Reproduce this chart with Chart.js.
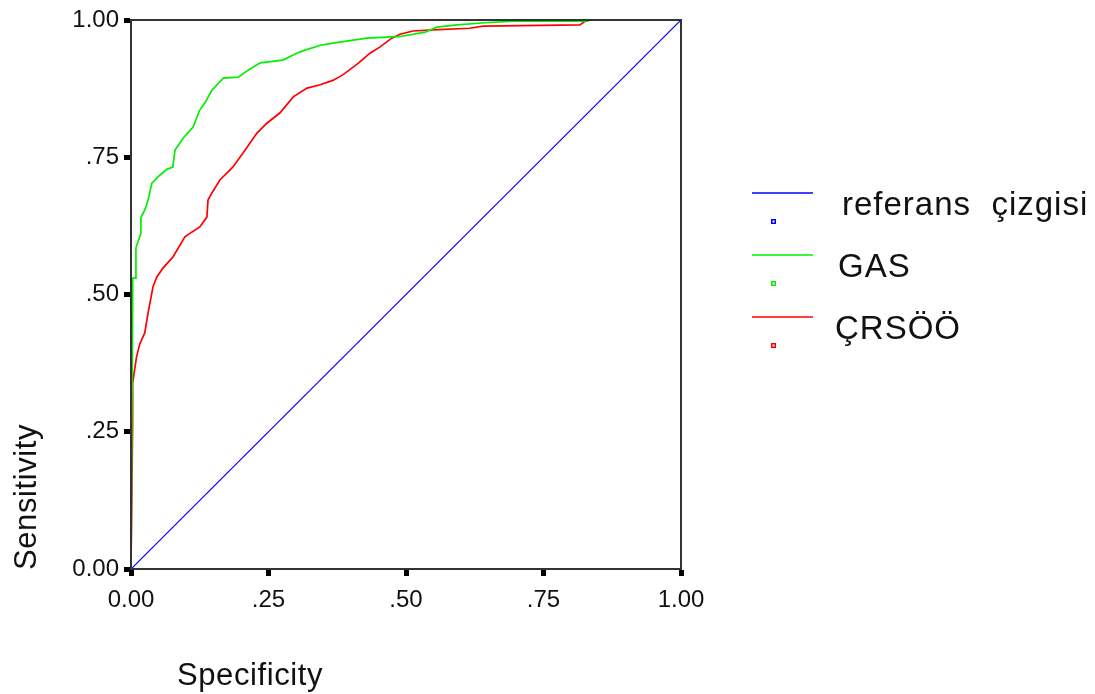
<!DOCTYPE html>
<html>
<head>
<meta charset="utf-8">
<script src="https://cdn.jsdelivr.net/npm/chart.js@4.4.1/dist/chart.umd.min.js"></script>
<style>
  html, body { margin: 0; padding: 0; background: #fff; }
  #wrap { position: relative; width: 1095px; height: 694px; }
</style>
</head>
<body>
<div id="wrap"><canvas id="c" width="1095" height="694"></canvas></div>
<script>
// ---- Data ----
const tickValues = [0, 0.25, 0.5, 0.75, 1];
const tickLabels = ['0.00', '.25', '.50', '.75', '1.00'];
const xTitle = 'Specificity';
const yTitle = 'Sensitivity';
const seriesNames = ['referans  çizgisi', 'GAS', 'ÇRSÖÖ'];
const seriesColors = ['#0000ff', '#00f000', '#ff0000'];

const refX = [0, 1];
const refY = [0, 1];

const gasX = [0, 0.003, 0.003, 0.009, 0.009, 0.018, 0.018, 0.022, 0.025, 0.031, 0.038, 0.050, 0.065, 0.076, 0.080, 0.095, 0.113, 0.125, 0.135, 0.147, 0.168, 0.195, 0.215, 0.235, 0.276, 0.307, 0.344, 0.367, 0.429, 0.490, 0.535, 0.556, 0.593, 0.644, 0.695, 0.830, 0.835, 1];
const gasY = [0, 0.477, 0.530, 0.530, 0.585, 0.612, 0.640, 0.648, 0.654, 0.672, 0.703, 0.715, 0.728, 0.732, 0.763, 0.785, 0.805, 0.836, 0.850, 0.872, 0.894, 0.896, 0.910, 0.922, 0.927, 0.942, 0.954, 0.958, 0.967, 0.970, 0.978, 0.987, 0.991, 0.995, 0.998, 0.998, 1, 1];

const crsX = [0, 0.003, 0.003, 0.010, 0.016, 0.025, 0.031, 0.040, 0.047, 0.058, 0.076, 0.098, 0.111, 0.125, 0.138, 0.140, 0.147, 0.162, 0.185, 0.204, 0.229, 0.247, 0.271, 0.295, 0.320, 0.344, 0.367, 0.385, 0.413, 0.435, 0.453, 0.474, 0.489, 0.513, 0.549, 0.616, 0.640, 0.816, 0.829, 1];
const crsY = [0, 0.268, 0.339, 0.386, 0.410, 0.430, 0.466, 0.514, 0.532, 0.548, 0.568, 0.605, 0.614, 0.623, 0.641, 0.672, 0.685, 0.709, 0.732, 0.758, 0.794, 0.812, 0.831, 0.860, 0.876, 0.882, 0.890, 0.900, 0.921, 0.940, 0.951, 0.967, 0.974, 0.980, 0.982, 0.985, 0.989, 0.991, 1, 1];

function pts(xs, ys) { return xs.map((x, i) => ({ x: x, y: ys[i] })); }

const FONT = '"Liberation Sans", Arial, sans-serif';

const framePlugin = {
  id: 'frame',
  afterDraw(chart) {
    const ctx = chart.ctx;
    const a = chart.chartArea;
    ctx.save();
    // plot frame
    ctx.strokeStyle = '#333';
    ctx.lineWidth = 2;
    ctx.strokeRect(a.left, a.top, a.right - a.left, a.bottom - a.top);

    // axis titles
    ctx.fillStyle = '#111';
    ctx.font = '31px ' + FONT;
    ctx.letterSpacing = '0.6px';
    ctx.textBaseline = 'middle';
    ctx.textAlign = 'left';
    ctx.fillText(xTitle, 177, 676);
    ctx.save();
    ctx.translate(27, 570);
    ctx.rotate(-Math.PI / 2);
    ctx.fillText(yTitle, 0, 0);
    ctx.restore();

    // legend
    const lineY = [193, 255, 317];
    const textY = [206, 268, 330];
    const textX = [842, 838, 835];
    ctx.font = '33px ' + FONT;
    ctx.letterSpacing = '1px';
    for (let i = 0; i < seriesNames.length; i++) {
      ctx.strokeStyle = seriesColors[i];
      ctx.lineWidth = 1.5;
      ctx.beginPath();
      ctx.moveTo(752, lineY[i]);
      ctx.lineTo(813, lineY[i]);
      ctx.stroke();
      ctx.fillStyle = seriesColors[i];
      ctx.fillRect(771, lineY[i] + 26, 5, 5);
      ctx.fillStyle = '#fff';
      ctx.fillRect(772.5, lineY[i] + 27.5, 2, 2);
      ctx.fillStyle = '#111';
      ctx.fillText(seriesNames[i], textX[i], textY[i]);
    }
    ctx.restore();
  }
};

const axisCommon = {
  type: 'linear',
  min: 0,
  max: 1,
  afterBuildTicks(scale) { scale.ticks = tickValues.map(v => ({ value: v })); },
  grid: { drawOnChartArea: false, drawTicks: true, tickLength: 7, tickWidth: 5, tickColor: '#000' },
  border: { display: true, color: '#333', width: 2 },
  title: { display: false }
};

new Chart(document.getElementById('c'), {
  type: 'line',
  data: {
    datasets: [
      { label: seriesNames[0], data: pts(refX, refY), borderColor: seriesColors[0], borderWidth: 1.2, pointRadius: 0, tension: 0 },
      { label: seriesNames[1], data: pts(gasX, gasY), borderColor: seriesColors[1], borderWidth: 1.7, pointRadius: 0, tension: 0 },
      { label: seriesNames[2], data: pts(crsX, crsY), borderColor: seriesColors[2], borderWidth: 1.7, pointRadius: 0, tension: 0 }
    ]
  },
  options: {
    responsive: false,
    animation: false,
    layout: { padding: { top: 20, right: 414, left: 0, bottom: 0 } },
    plugins: { legend: { display: false }, tooltip: { enabled: false } },
    scales: {
      x: Object.assign({}, axisCommon, {
        position: 'bottom',
        ticks: { color: '#111', font: { family: FONT, size: 24 }, padding: 10, maxRotation: 0, autoSkip: false,
                 callback: (v) => tickLabels[tickValues.indexOf(v)] },
        afterFit(scale) { scale.height = 125; }
      }),
      y: Object.assign({}, axisCommon, {
        position: 'left',
        ticks: { color: '#111', font: { family: FONT, size: 24 }, padding: 5, autoSkip: false,
                 callback: (v) => tickLabels[tickValues.indexOf(v)] },
        afterFit(scale) { scale.width = 131; }
      })
    }
  },
  plugins: [framePlugin]
});
</script>
</body>
</html>
